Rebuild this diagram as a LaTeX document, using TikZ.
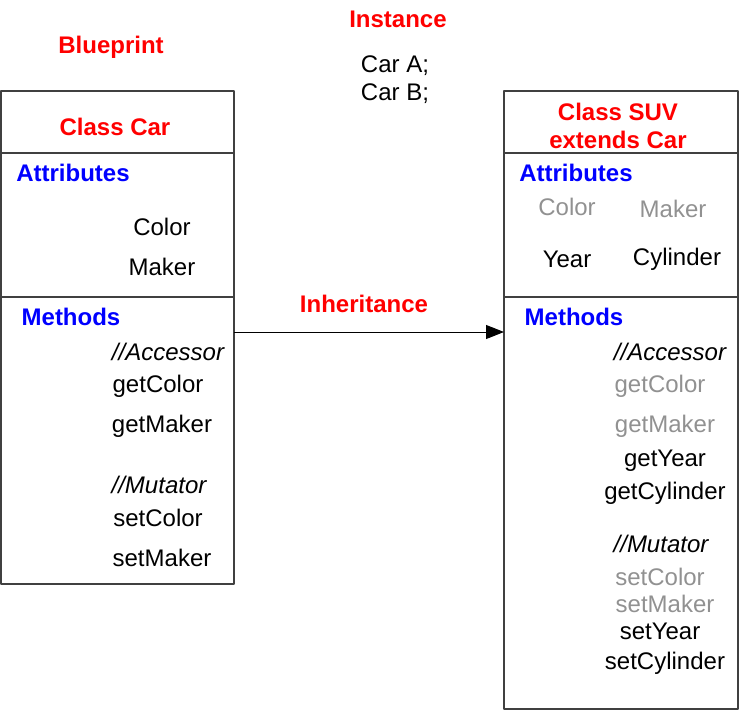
\documentclass[tikz,border=0pt]{standalone}
\usepackage{fontspec}
\setmainfont{Liberation Sans}
\usetikzlibrary{arrows.meta}

\definecolor{oldgray}{RGB}{145,145,145}

\begin{document}
\begin{tikzpicture}[x=1pt, y=-1pt, line join=bevel,
  every node/.style={font=\fontsize{24}{28}\selectfont, inner sep=0pt},
  lbl/.style={text=red, font=\fontsize{24}{28}\selectfont\bfseries},
  hdr/.style={text=blue, font=\fontsize{24}{28}\selectfont\bfseries},
  old/.style={text=oldgray},
  cmt/.style={font=\fontsize{24}{28}\selectfont\itshape},
  box/.style={draw=black!75, line width=1.2pt}]

\useasboundingbox (0,0) rectangle (739,712);

% the two classes
\draw[box] (1,91) rectangle (234,584);
\draw[box] (1,153) -- (234,153);
\draw[box] (1,297) -- (234,297);

\draw[box] (504,91) rectangle (738,709);
\draw[box] (504,153) -- (738,153);
\draw[box] (504,297) -- (738,297);

% inheritance
\coordinate (inhL) at (234,332);
\coordinate (inhR) at (504,332);
\draw[line width=1pt, -{Triangle[length=18pt,width=14pt]}] (inhL) -- (inhR);
\node[lbl] (inh) at (364,304) {Inheritance};

% top texts
\node[lbl] (inst) at (398,19) {Instance};
\node (carA) at (395,66) {Car A;};
\node (carB) at (395,94) {Car B;};
\node[lbl] (blue) at (111,47) {Blueprint};

% class Car
\node[lbl] (car) at (115,127) {Class Car};
\node[hdr] (carAtt) at (73,173) {Attributes};
\node (carCol) at (162,227) {Color};
\node (carMak) at (162,267) {Maker};
\node[hdr] (carMet) at (71,317) {Methods};
\node[cmt] (carAcc) at (168,352) {//Accessor};
\node (carGC) at (158,386) {getColor};
\node (carGM) at (162,426) {getMaker};
\node[cmt] (carMut) at (159,485) {//Mutator};
\node (carSC) at (158,518) {setColor};
\node (carSM) at (162,558) {setMaker};

% class SUV
\node[lbl] (suv) at (618,112) {Class SUV};
\node[lbl] (suvExt) at (618,140) {extends Car};
\node[hdr] (suvAtt) at (576,173) {Attributes};
\node[old] (suvCol) at (567,207) {Color};
\node[old] (suvMak) at (673,209) {Maker};
\node (suvYr) at (567,259) {Year};
\node (suvCyl) at (677,259) {Cylinder};
\node[hdr] (suvMet) at (574,317) {Methods};
\node[cmt] (suvAcc) at (670,352) {//Accessor};
\node[old] (suvGC) at (660,386) {getColor};
\node[old] (suvGM) at (665,426) {getMaker};
\node (suvGY) at (665,461) {getYear};
\node (suvGCy) at (665,493) {getCylinder};
\node[cmt] (suvMut) at (661,544) {//Mutator};
\node[old] (suvSC) at (660,577) {setColor};
\node[old] (suvSM) at (665,604) {setMaker};
\node (suvSY) at (660,631) {setYear};
\node (suvSCy) at (665,663) {setCylinder};

\end{tikzpicture}
\end{document}
